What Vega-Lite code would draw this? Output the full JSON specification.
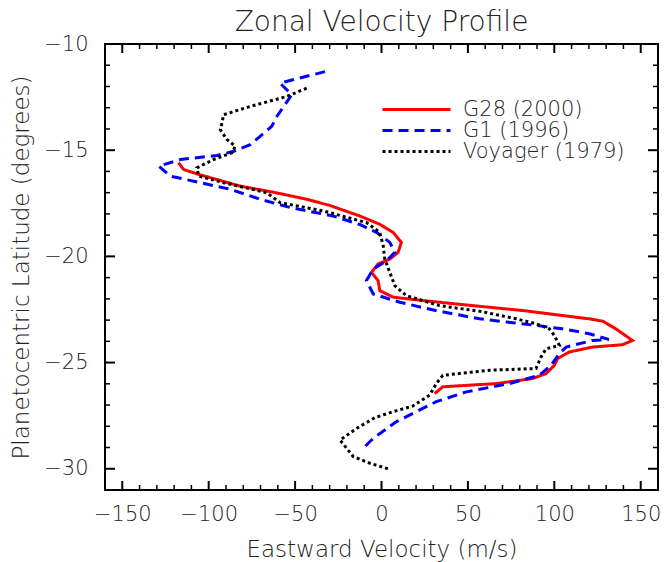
{
  "$schema": "https://vega.github.io/schema/vega-lite/v6.json",
  "autosize": {"type": "none"},
  "padding": {"left": 105, "top": 44, "right": 6, "bottom": 72},
  "width": 553,
  "height": 446,
  "title": {"text": "Zonal Velocity Profile", "fontSize": 28, "font": "DejaVu Sans", "fontWeight": 200, "color": "#222", "offset": -4, "anchor": "middle"},
  "config": {
    "view": {"stroke": "black", "strokeWidth": 2},
    "axis": {"grid": false, "domain": false, "ticks": false, "labelFont": "DejaVu Sans", "labelFontWeight": 200, "labelFontSize": 21, "labelColor": "#222", "titleFont": "DejaVu Sans", "titleFontSize": 23, "titleFontWeight": 200, "titleColor": "#222"},
    "line": {"strokeWidth": 3}
  },
  "datasets": {
    "xmajor": [{"t": -150}, {"t": -100}, {"t": -50}, {"t": 0}, {"t": 50}, {"t": 100}, {"t": 150}],
    "xminor": [{"t": -140}, {"t": -130}, {"t": -120}, {"t": -110}, {"t": -90}, {"t": -80}, {"t": -70}, {"t": -60}, {"t": -40}, {"t": -30}, {"t": -20}, {"t": -10}, {"t": 10}, {"t": 20}, {"t": 30}, {"t": 40}, {"t": 60}, {"t": 70}, {"t": 80}, {"t": 90}, {"t": 110}, {"t": 120}, {"t": 130}, {"t": 140}],
    "ymajor": [{"t": -15}, {"t": -20}, {"t": -25}, {"t": -30}],
    "yminor": [{"t": -11}, {"t": -12}, {"t": -13}, {"t": -14}, {"t": -16}, {"t": -17}, {"t": -18}, {"t": -19}, {"t": -21}, {"t": -22}, {"t": -23}, {"t": -24}, {"t": -26}, {"t": -27}, {"t": -28}, {"t": -29}],
    "profiles": [
    {"s": "G28 (2000)", "i": 1, "v": -117.4, "lat": -15.59},
    {"s": "G28 (2000)", "i": 2, "v": -114.5, "lat": -15.91},
    {"s": "G28 (2000)", "i": 3, "v": -105.8, "lat": -16.14},
    {"s": "G28 (2000)", "i": 4, "v": -81.8, "lat": -16.69},
    {"s": "G28 (2000)", "i": 5, "v": -62.5, "lat": -16.98},
    {"s": "G28 (2000)", "i": 6, "v": -43.3, "lat": -17.31},
    {"s": "G28 (2000)", "i": 7, "v": -30.0, "lat": -17.6},
    {"s": "G28 (2000)", "i": 8, "v": -12.5, "lat": -18.1},
    {"s": "G28 (2000)", "i": 9, "v": -1.0, "lat": -18.49},
    {"s": "G28 (2000)", "i": 10, "v": 6.7, "lat": -18.87},
    {"s": "G28 (2000)", "i": 11, "v": 11.5, "lat": -19.34},
    {"s": "G28 (2000)", "i": 12, "v": 9.6, "lat": -19.81},
    {"s": "G28 (2000)", "i": 13, "v": 4.8, "lat": -20.13},
    {"s": "G28 (2000)", "i": 14, "v": -2.0, "lat": -20.36},
    {"s": "G28 (2000)", "i": 15, "v": -5.8, "lat": -20.75},
    {"s": "G28 (2000)", "i": 16, "v": -2.0, "lat": -21.14},
    {"s": "G28 (2000)", "i": 17, "v": -1.0, "lat": -21.61},
    {"s": "G28 (2000)", "i": 18, "v": 6.7, "lat": -21.92},
    {"s": "G28 (2000)", "i": 19, "v": 24.0, "lat": -22.08},
    {"s": "G28 (2000)", "i": 20, "v": 52.9, "lat": -22.32},
    {"s": "G28 (2000)", "i": 21, "v": 81.7, "lat": -22.55},
    {"s": "G28 (2000)", "i": 22, "v": 120.2, "lat": -22.94},
    {"s": "G28 (2000)", "i": 23, "v": 128.0, "lat": -23.05},
    {"s": "G28 (2000)", "i": 24, "v": 135.6, "lat": -23.41},
    {"s": "G28 (2000)", "i": 25, "v": 145.2, "lat": -23.96},
    {"s": "G28 (2000)", "i": 26, "v": 139.4, "lat": -24.16},
    {"s": "G28 (2000)", "i": 27, "v": 122.1, "lat": -24.27},
    {"s": "G28 (2000)", "i": 28, "v": 108.7, "lat": -24.5},
    {"s": "G28 (2000)", "i": 29, "v": 101.9, "lat": -24.81},
    {"s": "G28 (2000)", "i": 30, "v": 100.0, "lat": -25.13},
    {"s": "G28 (2000)", "i": 31, "v": 95.2, "lat": -25.52},
    {"s": "G28 (2000)", "i": 32, "v": 87.5, "lat": -25.75},
    {"s": "G28 (2000)", "i": 33, "v": 66.4, "lat": -25.99},
    {"s": "G28 (2000)", "i": 34, "v": 35.5, "lat": -26.14},
    {"s": "G28 (2000)", "i": 35, "v": 30.8, "lat": -26.46},
    {"s": "G1 (1996)", "i": 1, "v": -32.7, "lat": -11.3},
    {"s": "G1 (1996)", "i": 2, "v": -58.7, "lat": -11.84},
    {"s": "G1 (1996)", "i": 3, "v": -51.9, "lat": -12.39},
    {"s": "G1 (1996)", "i": 4, "v": -60.6, "lat": -13.41},
    {"s": "G1 (1996)", "i": 5, "v": -63.5, "lat": -13.88},
    {"s": "G1 (1996)", "i": 6, "v": -76.0, "lat": -14.74},
    {"s": "G1 (1996)", "i": 7, "v": -85.6, "lat": -15.05},
    {"s": "G1 (1996)", "i": 8, "v": -95.2, "lat": -15.25},
    {"s": "G1 (1996)", "i": 9, "v": -116.4, "lat": -15.44},
    {"s": "G1 (1996)", "i": 10, "v": -128.9, "lat": -15.75},
    {"s": "G1 (1996)", "i": 11, "v": -122.2, "lat": -16.22},
    {"s": "G1 (1996)", "i": 12, "v": -104.9, "lat": -16.53},
    {"s": "G1 (1996)", "i": 13, "v": -87.5, "lat": -16.84},
    {"s": "G1 (1996)", "i": 14, "v": -70.2, "lat": -17.31},
    {"s": "G1 (1996)", "i": 15, "v": -52.9, "lat": -17.7},
    {"s": "G1 (1996)", "i": 16, "v": -28.0, "lat": -18.1},
    {"s": "G1 (1996)", "i": 17, "v": -12.5, "lat": -18.5},
    {"s": "G1 (1996)", "i": 18, "v": -2.9, "lat": -18.87},
    {"s": "G1 (1996)", "i": 19, "v": 4.8, "lat": -19.34},
    {"s": "G1 (1996)", "i": 20, "v": 7.7, "lat": -19.81},
    {"s": "G1 (1996)", "i": 21, "v": 2.9, "lat": -20.21},
    {"s": "G1 (1996)", "i": 22, "v": -4.8, "lat": -20.6},
    {"s": "G1 (1996)", "i": 23, "v": -8.7, "lat": -21.14},
    {"s": "G1 (1996)", "i": 24, "v": -4.8, "lat": -21.77},
    {"s": "G1 (1996)", "i": 25, "v": 10.6, "lat": -22.16},
    {"s": "G1 (1996)", "i": 26, "v": 31.3, "lat": -22.55},
    {"s": "G1 (1996)", "i": 27, "v": 56.7, "lat": -22.94},
    {"s": "G1 (1996)", "i": 28, "v": 89.4, "lat": -23.25},
    {"s": "G1 (1996)", "i": 29, "v": 104.6, "lat": -23.41},
    {"s": "G1 (1996)", "i": 30, "v": 120.2, "lat": -23.64},
    {"s": "G1 (1996)", "i": 31, "v": 131.5, "lat": -23.91},
    {"s": "G1 (1996)", "i": 32, "v": 121.9, "lat": -23.96},
    {"s": "G1 (1996)", "i": 33, "v": 106.8, "lat": -24.27},
    {"s": "G1 (1996)", "i": 34, "v": 102.9, "lat": -24.58},
    {"s": "G1 (1996)", "i": 35, "v": 98.1, "lat": -25.13},
    {"s": "G1 (1996)", "i": 36, "v": 91.3, "lat": -25.6},
    {"s": "G1 (1996)", "i": 37, "v": 74.0, "lat": -25.99},
    {"s": "G1 (1996)", "i": 38, "v": 49.0, "lat": -26.38},
    {"s": "G1 (1996)", "i": 39, "v": 31.7, "lat": -26.84},
    {"s": "G1 (1996)", "i": 40, "v": 20.2, "lat": -27.31},
    {"s": "G1 (1996)", "i": 41, "v": 8.7, "lat": -27.78},
    {"s": "G1 (1996)", "i": 42, "v": -4.8, "lat": -28.57},
    {"s": "G1 (1996)", "i": 43, "v": -9.6, "lat": -28.95},
    {"s": "Voyager (1979)", "i": 1, "v": -43.3, "lat": -12.08},
    {"s": "Voyager (1979)", "i": 2, "v": -54.8, "lat": -12.47},
    {"s": "Voyager (1979)", "i": 3, "v": -76.0, "lat": -12.94},
    {"s": "Voyager (1979)", "i": 4, "v": -91.4, "lat": -13.33},
    {"s": "Voyager (1979)", "i": 5, "v": -92.3, "lat": -13.72},
    {"s": "Voyager (1979)", "i": 6, "v": -93.3, "lat": -14.03},
    {"s": "Voyager (1979)", "i": 7, "v": -89.4, "lat": -14.5},
    {"s": "Voyager (1979)", "i": 8, "v": -84.6, "lat": -14.81},
    {"s": "Voyager (1979)", "i": 9, "v": -86.6, "lat": -15.12},
    {"s": "Voyager (1979)", "i": 10, "v": -97.2, "lat": -15.44},
    {"s": "Voyager (1979)", "i": 11, "v": -106.8, "lat": -15.83},
    {"s": "Voyager (1979)", "i": 12, "v": -105.8, "lat": -16.22},
    {"s": "Voyager (1979)", "i": 13, "v": -91.4, "lat": -16.53},
    {"s": "Voyager (1979)", "i": 14, "v": -66.4, "lat": -17.0},
    {"s": "Voyager (1979)", "i": 15, "v": -58.7, "lat": -17.47},
    {"s": "Voyager (1979)", "i": 16, "v": -33.7, "lat": -17.86},
    {"s": "Voyager (1979)", "i": 17, "v": -8.7, "lat": -18.41},
    {"s": "Voyager (1979)", "i": 18, "v": -1.0, "lat": -18.87},
    {"s": "Voyager (1979)", "i": 19, "v": 1.0, "lat": -19.5},
    {"s": "Voyager (1979)", "i": 20, "v": 1.9, "lat": -20.13},
    {"s": "Voyager (1979)", "i": 21, "v": 4.8, "lat": -20.75},
    {"s": "Voyager (1979)", "i": 22, "v": 7.7, "lat": -21.38},
    {"s": "Voyager (1979)", "i": 23, "v": 14.4, "lat": -21.85},
    {"s": "Voyager (1979)", "i": 24, "v": 33.6, "lat": -22.32},
    {"s": "Voyager (1979)", "i": 25, "v": 58.0, "lat": -22.6},
    {"s": "Voyager (1979)", "i": 26, "v": 77.9, "lat": -22.94},
    {"s": "Voyager (1979)", "i": 27, "v": 89.4, "lat": -23.17},
    {"s": "Voyager (1979)", "i": 28, "v": 97.1, "lat": -23.41},
    {"s": "Voyager (1979)", "i": 29, "v": 100.0, "lat": -23.72},
    {"s": "Voyager (1979)", "i": 30, "v": 102.9, "lat": -24.19},
    {"s": "Voyager (1979)", "i": 31, "v": 95.2, "lat": -24.35},
    {"s": "Voyager (1979)", "i": 32, "v": 92.3, "lat": -24.74},
    {"s": "Voyager (1979)", "i": 33, "v": 89.4, "lat": -25.28},
    {"s": "Voyager (1979)", "i": 34, "v": 62.5, "lat": -25.36},
    {"s": "Voyager (1979)", "i": 35, "v": 35.5, "lat": -25.6},
    {"s": "Voyager (1979)", "i": 36, "v": 31.7, "lat": -25.99},
    {"s": "Voyager (1979)", "i": 37, "v": 27.9, "lat": -26.53},
    {"s": "Voyager (1979)", "i": 38, "v": 18.0, "lat": -27.05},
    {"s": "Voyager (1979)", "i": 39, "v": 6.7, "lat": -27.31},
    {"s": "Voyager (1979)", "i": 40, "v": -4.0, "lat": -27.6},
    {"s": "Voyager (1979)", "i": 41, "v": -14.4, "lat": -28.1},
    {"s": "Voyager (1979)", "i": 42, "v": -24.0, "lat": -28.65},
    {"s": "Voyager (1979)", "i": 43, "v": -20.2, "lat": -29.03},
    {"s": "Voyager (1979)", "i": 44, "v": -16.4, "lat": -29.42},
    {"s": "Voyager (1979)", "i": 45, "v": -6.7, "lat": -29.74},
    {"s": "Voyager (1979)", "i": 46, "v": 3.8, "lat": -30.0}
    ]
  },
  "layer": [
    {
      "data": {"name": "xmajor"},
      "mark": {"type": "rule", "strokeWidth": 2, "color": "black", "opacity": 1},
      "encoding": {
        "x": {"field": "t", "type": "quantitative", "scale": {"domain": [-160, 160], "nice": false, "zero": false}, "axis": null},
        "y": {"datum": -31, "type": "quantitative", "scale": {"domain": [-31, -10], "nice": false, "zero": false}, "axis": null},
        "y2": {"datum": -30.576}
      }
    },
    {
      "data": {"name": "xmajor"},
      "mark": {"type": "rule", "strokeWidth": 2, "color": "black", "opacity": 1},
      "encoding": {
        "x": {"field": "t", "type": "quantitative", "scale": {"domain": [-160, 160], "nice": false, "zero": false}, "axis": null},
        "y": {"datum": -10, "type": "quantitative", "scale": {"domain": [-31, -10], "nice": false, "zero": false}, "axis": null},
        "y2": {"datum": -10.424}
      }
    },
    {
      "data": {"name": "xminor"},
      "mark": {"type": "rule", "strokeWidth": 1.5, "color": "black", "opacity": 1},
      "encoding": {
        "x": {"field": "t", "type": "quantitative", "scale": {"domain": [-160, 160], "nice": false, "zero": false}, "axis": null},
        "y": {"datum": -31, "type": "quantitative", "scale": {"domain": [-31, -10], "nice": false, "zero": false}, "axis": null},
        "y2": {"datum": -30.765}
      }
    },
    {
      "data": {"name": "xminor"},
      "mark": {"type": "rule", "strokeWidth": 1.5, "color": "black", "opacity": 1},
      "encoding": {
        "x": {"field": "t", "type": "quantitative", "scale": {"domain": [-160, 160], "nice": false, "zero": false}, "axis": null},
        "y": {"datum": -10, "type": "quantitative", "scale": {"domain": [-31, -10], "nice": false, "zero": false}, "axis": null},
        "y2": {"datum": -10.235}
      }
    },
    {
      "data": {"name": "ymajor"},
      "mark": {"type": "rule", "strokeWidth": 2, "color": "black", "opacity": 1},
      "encoding": {
        "y": {"field": "t", "type": "quantitative", "scale": {"domain": [-31, -10], "nice": false, "zero": false}, "axis": null},
        "x": {"datum": -160, "type": "quantitative", "scale": {"domain": [-160, 160], "nice": false, "zero": false}, "axis": null},
        "x2": {"datum": -154.2}
      }
    },
    {
      "data": {"name": "ymajor"},
      "mark": {"type": "rule", "strokeWidth": 2, "color": "black", "opacity": 1},
      "encoding": {
        "y": {"field": "t", "type": "quantitative", "scale": {"domain": [-31, -10], "nice": false, "zero": false}, "axis": null},
        "x": {"datum": 160, "type": "quantitative", "scale": {"domain": [-160, 160], "nice": false, "zero": false}, "axis": null},
        "x2": {"datum": 154.2}
      }
    },
    {
      "data": {"name": "yminor"},
      "mark": {"type": "rule", "strokeWidth": 1.5, "color": "black", "opacity": 1},
      "encoding": {
        "y": {"field": "t", "type": "quantitative", "scale": {"domain": [-31, -10], "nice": false, "zero": false}, "axis": null},
        "x": {"datum": -160, "type": "quantitative", "scale": {"domain": [-160, 160], "nice": false, "zero": false}, "axis": null},
        "x2": {"datum": -157.1}
      }
    },
    {
      "data": {"name": "yminor"},
      "mark": {"type": "rule", "strokeWidth": 1.5, "color": "black", "opacity": 1},
      "encoding": {
        "y": {"field": "t", "type": "quantitative", "scale": {"domain": [-31, -10], "nice": false, "zero": false}, "axis": null},
        "x": {"datum": 160, "type": "quantitative", "scale": {"domain": [-160, 160], "nice": false, "zero": false}, "axis": null},
        "x2": {"datum": 157.1}
      }
    },
    {
      "data": {"name": "profiles"},
      "mark": {"type": "line", "strokeWidth": 3, "strokeCap": "butt"},
      "encoding": {
        "x": {"field": "v", "type": "quantitative", "scale": {"domain": [-160, 160], "nice": false, "zero": false},
          "axis": {"orient": "bottom", "values": [-150, -100, -50, 0, 50, 100, 150], "labelPadding": 13, "title": "Eastward Velocity (m/s)", "titlePadding": 14}},
        "y": {"field": "lat", "type": "quantitative", "scale": {"domain": [-31, -10], "nice": false, "zero": false},
          "axis": {"orient": "left", "values": [-10, -15, -20, -25, -30], "labelPadding": 17, "title": "Planetocentric Latitude (degrees)", "titlePadding": 10}},
        "color": {"field": "s", "type": "nominal", "sort": ["G28 (2000)", "G1 (1996)", "Voyager (1979)"],
          "scale": {"domain": ["G28 (2000)", "G1 (1996)", "Voyager (1979)"], "range": ["#ff0000", "#0000ff", "#000000"]},
          "legend": {"orient": "none", "legendX": 301, "legendY": 55, "title": null, "symbolType": "M-4.53,0H4.53", "symbolSize": 225, "symbolStrokeWidth": 3, "labelFontSize": 21, "labelFont": "DejaVu Sans", "labelFontWeight": 200, "labelColor": "#222", "labelOffset": 36, "labelLimit": 400, "rowPadding": -5}},
        "strokeDash": {"field": "s", "type": "nominal", "sort": ["G28 (2000)", "G1 (1996)", "Voyager (1979)"],
          "scale": {"domain": ["G28 (2000)", "G1 (1996)", "Voyager (1979)"], "range": [[1, 0], [10, 6], [3, 3]]},
          "legend": {"orient": "none", "legendX": 301, "legendY": 55, "title": null, "symbolType": "M-4.53,0H4.53", "symbolSize": 225, "symbolStrokeWidth": 3, "labelFontSize": 21, "labelFont": "DejaVu Sans", "labelFontWeight": 200, "labelColor": "#222", "labelOffset": 36, "labelLimit": 400, "rowPadding": -5}},
        "order": {"field": "i", "type": "quantitative"}
      }
    }
  ],
  "resolve": {"axis": {"x": "independent", "y": "independent"}}
}
